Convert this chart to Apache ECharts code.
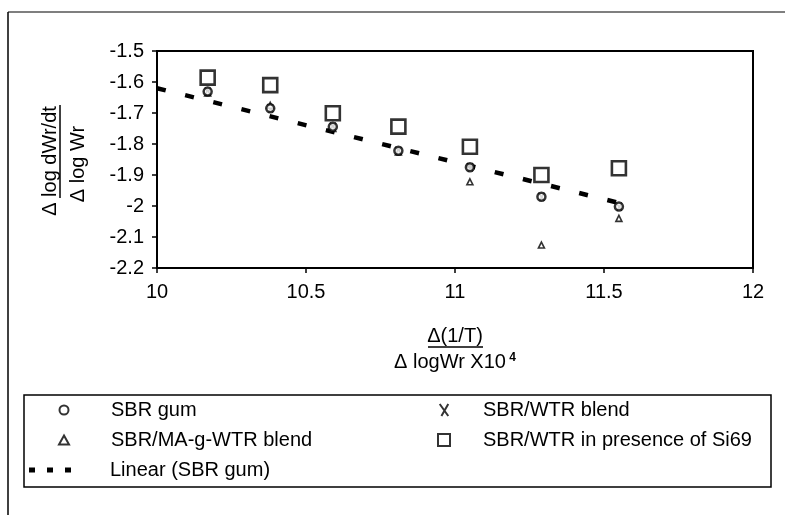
<!DOCTYPE html>
<html>
<head>
<meta charset="utf-8">
<script src="https://cdn.jsdelivr.net/npm/echarts@6/dist/echarts.min.js"></script>
<style>
html,body{margin:0;padding:0;background:#fff;}
#chart{width:785px;height:515px;}
</style>
</head>
<body>
<div id="chart"></div>
<script>
// ---- data ----
var xValues = [10.17, 10.38, 10.59, 10.81, 11.05, 11.29, 11.55];
var sbrGum = [-1.631, -1.685, -1.744, -1.822, -1.875, -1.970, -2.002];
var sbrWtrBlend = [-1.631, -1.685, -1.744, -1.822, -1.875, -1.970, -2.002];
var sbrMaWtr = [-1.635, -1.675, -1.750, -1.826, -1.922, -2.126, -2.040];
var sbrWtrSi69 = [-1.586, -1.610, -1.701, -1.744, -1.809, -1.900, -1.878];
var trendX = [10, 11.55];
var trendY = [-1.62, -1.99];
var seriesNames = ['SBR gum', 'SBR/WTR blend', 'SBR/MA-g-WTR blend', 'SBR/WTR in presence of Si69', 'Linear (SBR gum)'];

function pairs(xs, ys) { return xs.map(function (x, i) { return [x, ys[i]]; }); }

var FONT = 'Liberation Sans';
var FS = 20;
var chart = echarts.init(document.getElementById('chart'), null, {renderer: 'canvas'});

var xPath = 'path://M0,0L10,14M10,0L2,14';
var dashIcon = 'path://M0,0h6v5h-6z M18,0h6v5h-6z M36,0h6v5h-6z';

var option = {
  backgroundColor: '#fff',
  animation: false,
  textStyle: {fontFamily: FONT, color: '#000'},
  grid: {left: 157, right: 32, top: 51, bottom: 247, show: true, borderColor: '#000', borderWidth: 2, backgroundColor: 'transparent'},
  xAxis: {
    type: 'value', min: 10, max: 12, interval: 0.5,
    axisLine: {show: true, lineStyle: {color: '#000', width: 2}},
    axisTick: {show: true, length: 5, lineStyle: {color: '#000', width: 1.5}},
    axisLabel: {fontFamily: FONT, fontSize: FS, color: '#000', margin: 14},
    splitLine: {show: false}
  },
  yAxis: {
    type: 'value', min: -2.2, max: -1.5, interval: 0.1,
    axisLine: {show: true, lineStyle: {color: '#000', width: 2}},
    axisTick: {show: true, length: 5, lineStyle: {color: '#000', width: 1.5}},
    axisLabel: {fontFamily: FONT, fontSize: FS, color: '#000', margin: 13,
      formatter: function (v) { return String(Math.round(v * 10) / 10); }},
    splitLine: {show: false}
  },
  legend: [
    {
      orient: 'vertical', left: 53, top: 394, itemWidth: 10, itemHeight: 9, itemGap: 8,
      data: [seriesNames[0], seriesNames[2]],
      textStyle: {fontFamily: FONT, fontSize: FS, color: '#000', lineHeight: 22, padding: [0, 0, 0, 37]}
    },
    {
      orient: 'vertical', left: 432, top: 394, itemWidth: 12, itemHeight: 12, itemGap: 8,
      data: [seriesNames[1], seriesNames[3]],
      textStyle: {fontFamily: FONT, fontSize: FS, color: '#000', lineHeight: 22, padding: [0, 0, 0, 28]}
    },
    {
      orient: 'vertical', left: 24, top: 454, itemWidth: 42, itemHeight: 5,
      data: [{name: seriesNames[4], icon: dashIcon}],
      textStyle: {fontFamily: FONT, fontSize: FS, color: '#000', lineHeight: 22, padding: [0, 0, 0, 34]}
    }
  ],
  series: [
    {
      name: seriesNames[4], type: 'line', data: pairs(trendX, trendY), symbol: 'none', z: 1,
      lineStyle: {color: '#000', width: 4.5, type: [9, 20], cap: 'butt'},
      itemStyle: {color: '#000'}
    },
    {
      name: seriesNames[1], type: 'scatter', data: pairs(xValues, sbrWtrBlend), symbol: xPath, symbolSize: [6, 8], z: 2,
      itemStyle: {color: '#000', borderColor: '#000', borderWidth: 1.8}
    },
    {
      name: seriesNames[2], type: 'scatter', data: pairs(xValues, sbrMaWtr), symbol: 'triangle', symbolSize: 6, z: 3,
      itemStyle: {color: '#fff', borderColor: '#000', borderWidth: 1.6}
    },
    {
      name: seriesNames[0], type: 'scatter', data: pairs(xValues, sbrGum), symbol: 'circle', symbolSize: 8, z: 4,
      itemStyle: {color: '#fff', borderColor: '#000', borderWidth: 2.5}
    },
    {
      name: seriesNames[3], type: 'scatter', data: pairs(xValues, sbrWtrSi69), symbol: 'rect', symbolSize: 14, z: 5,
      itemStyle: {color: '#fff', borderColor: '#000', borderWidth: 2.6}
    }
  ],
  graphic: [
    {type: 'line', shape: {x1: 8, y1: 12, x2: 8, y2: 515}, style: {stroke: '#000', lineWidth: 1.5}},
    {type: 'line', shape: {x1: 8, y1: 12, x2: 785, y2: 12}, style: {stroke: '#000', lineWidth: 1.2}},
    {type: 'rect', shape: {x: 24, y: 395, width: 747, height: 92}, style: {fill: 'none', stroke: '#000', lineWidth: 1.5}, z: 0},
    {type: 'text', x: 50, y: 161, rotation: Math.PI / 2,
      style: {text: 'Δ log dWr/dt', font: FS + 'px ' + FONT, fill: '#000', align: 'center', verticalAlign: 'middle'}},
    {type: 'line', shape: {x1: 60, y1: 105, x2: 60, y2: 198}, style: {stroke: '#000', lineWidth: 1.5}},
    {type: 'text', x: 78, y: 164, rotation: Math.PI / 2,
      style: {text: 'Δ log Wr', font: FS + 'px ' + FONT, fill: '#000', align: 'center', verticalAlign: 'middle'}},
    {type: 'text', x: 455, y: 336,
      style: {text: 'Δ(1/T)', font: FS + 'px ' + FONT, fill: '#000', align: 'center', verticalAlign: 'middle'}},
    {type: 'line', shape: {x1: 428, y1: 347, x2: 483, y2: 347}, style: {stroke: '#000', lineWidth: 1.5}},
    {type: 'text', x: 455, y: 362,
      style: {text: '{a|Δ logWr X10}{s| 4}', align: 'center', verticalAlign: 'middle',
        rich: {a: {font: FS + 'px ' + FONT, fill: '#000', verticalAlign: 'bottom'},
               s: {font: 'bold 12px ' + FONT, fill: '#000', verticalAlign: 'top', padding: [0, 0, 9, 0]}}}}
  ]
};
chart.setOption(option);
</script>
</body>
</html>
